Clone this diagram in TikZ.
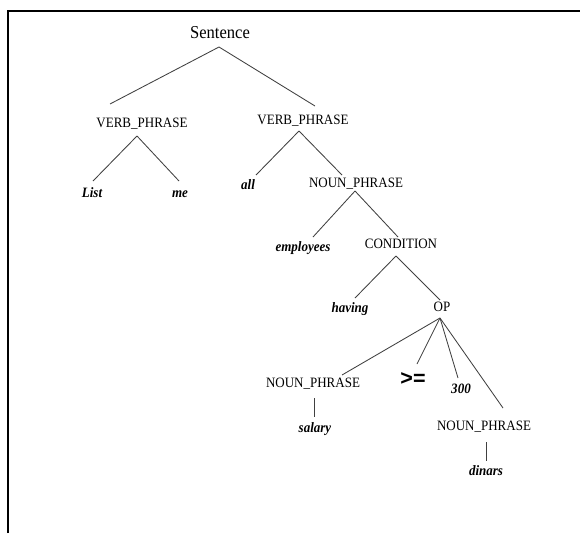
\documentclass[tikz,border=0pt]{standalone}
\usepackage{fontspec}
\setmainfont{Liberation Serif}
\newfontfamily\treefont[FakeStretch=0.91]{Liberation Serif}
\newfontfamily\opfont{Liberation Sans}
\usetikzlibrary{calc}
\begin{document}
\begin{tikzpicture}[x=1pt,y=-1pt,
  cat/.style={font=\treefont\fontsize{14.3}{16}\selectfont, inner sep=0pt, text height=9.5pt, text depth=0pt},
  word/.style={font=\treefont\fontsize{14.3}{16}\selectfont\bfseries\itshape, inner sep=0pt, text height=9.5pt, text depth=0pt},
  edge/.style={draw=black!75, line width=0.85pt}]
\useasboundingbox (0,0) rectangle (580,533);
\fill[white] (0,0) rectangle (580,533);
\draw[line width=2pt] (8,533) -- (8,10.5) -- (580,10.5);

\node[cat, font=\treefont\fontsize{18.2}{20}\selectfont, text height=12pt] (S) at (220,32) {Sentence};
\node[cat] (VPL) at (142,123) {VERB\_PHRASE};
\node[cat] (VPR) at (303,120) {VERB\_PHRASE};
\node[word] (List) at (92,193) {List};
\node[word] (me) at (180,193) {me};
\node[word] (all) at (248,185) {all};
\node[cat] (NPa) at (356,183) {NOUN\_PHRASE};
\node[word] (employees) at (303,247) {employees};
\node[cat] (COND) at (401,244) {CONDITION};
\node[word] (having) at (350,308) {having};
\node[cat] (OP) at (442,307) {OP};
\node[cat] (NPb) at (313,383) {NOUN\_PHRASE};
\node[inner sep=0pt, font=\opfont\bfseries\fontsize{21.5}{23}\selectfont, text height=8pt, text depth=0pt] (GE) at (413,381) {>=};
\node[word] (n300) at (461,389) {300};
\node[cat] (NPc) at (484,426) {NOUN\_PHRASE};
\node[word] (salary) at (315,428) {salary};
\node[word] (dinars) at (486,471) {dinars};

\draw[edge] ($(S)+(-1,15)$) -- ($(VPL)+(-32,-19)$);
\draw[edge] ($(S)+(-1,15)$) -- ($(VPR)+(12,-14)$);
\draw[edge] ($(VPL)+(-5,13)$) -- ($(List)+(1,-12)$);
\draw[edge] ($(VPL)+(-5,13)$) -- ($(me)+(-1,-12)$);
\draw[edge] ($(VPR)+(-4,11)$) -- ($(all)+(8,-10)$);
\draw[edge] ($(VPR)+(-4,11)$) -- ($(NPa)+(-14,-8)$);
\draw[edge] ($(NPa)+(-1,8)$) -- ($(employees)+(10,-10)$);
\draw[edge] ($(NPa)+(-1,8)$) -- ($(COND)+(-3,-7)$);
\draw[edge] ($(COND)+(-5,12)$) -- ($(having)+(5,-10)$);
\draw[edge] ($(COND)+(-5,12)$) -- ($(OP)+(-2,-7)$);
\draw[edge] ($(OP)+(-2,11)$) -- ($(NPb)+(29,-8)$);
\draw[edge] ($(OP)+(-2,11)$) -- ($(GE)+(4,-17)$);
\draw[edge] ($(OP)+(-2,11)$) -- ($(n300)+(-3,-11)$);
\draw[edge] ($(OP)+(-2,11)$) -- ($(NPc)+(19,-18)$);
\draw[edge] ($(NPb)+(1,15)$) -- ($(salary)+(-1,-11)$);
\draw[edge] ($(NPc)+(2,16)$) -- ($(dinars)+(0,-10)$);
\end{tikzpicture}
\end{document}
